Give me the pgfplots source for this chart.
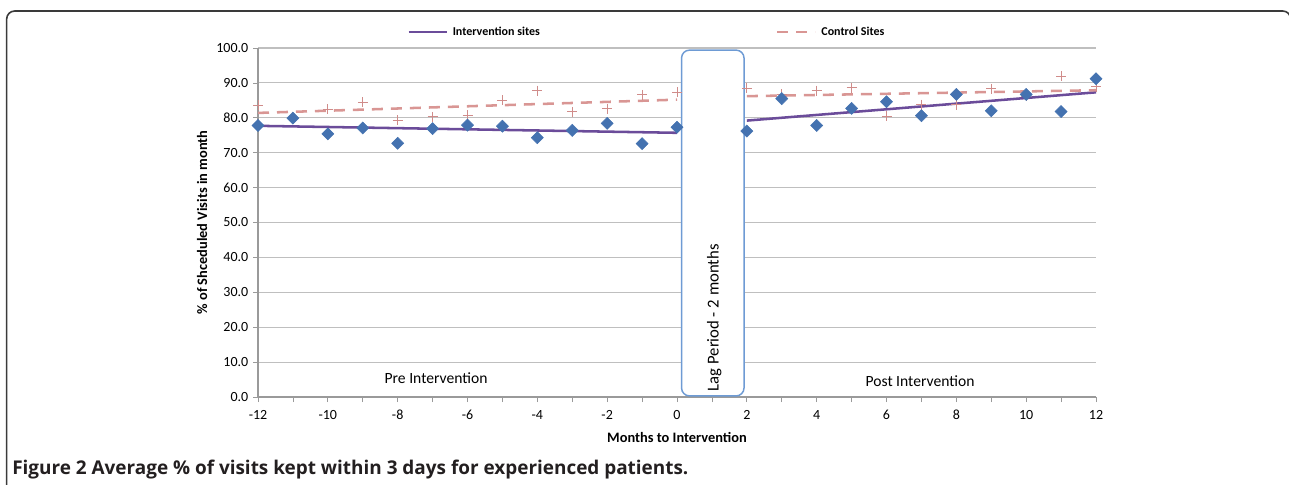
\documentclass[border=0pt]{standalone}
\usepackage{pgfplots}
\pgfplotsset{compat=1.18}
\usepackage{fontspec}
\setmainfont{Carlito}
\newfontfamily\capfont{Open Sans}

\definecolor{intblue}{HTML}{4472B0}
\definecolor{intpurple}{HTML}{6B4C9A}
\definecolor{ctrlrose}{HTML}{D99694}
\definecolor{ctrlplus}{HTML}{D08C8A}
\definecolor{boxblue}{HTML}{6E9BD4}
\definecolor{gridgray}{HTML}{BFBFBF}
\definecolor{axisgray}{HTML}{9A9A9A}
\definecolor{framegray}{HTML}{3A3A3A}
\definecolor{captext}{HTML}{231F20}

\begin{document}
\begin{tikzpicture}
% 1 px of the reference = 0.75pt
\useasboundingbox (0,0) rectangle (966.75pt,-363.75pt);
\draw[line width=1.2pt, framegray, rounded corners=6pt]
  (5pt,-370pt) -- (5pt,-8.25pt) -- (968pt,-8.25pt) -- (968pt,-370pt);

\begin{axis}[
    at={(193.5pt,-297.75pt)}, anchor=south west,
    scale only axis, width=628.5pt, height=261.75pt,
    xmin=-12, xmax=12, ymin=0, ymax=100,
    clip=false,
    axis x line*=bottom, axis y line*=left,
    axis line style={draw=axisgray, line width=0.8pt, -},
    xtick={-12,-10,...,12}, minor x tick num=1,
    ytick={0,10,...,100},
    tick align=outside,
    major tick length=3.75pt, minor tick length=3.75pt,
    every tick/.style={draw=axisgray, line width=0.6pt},
    ymajorgrids,
    grid style={draw=gridgray, line width=0.8pt},
    yticklabel style={/pgf/number format/.cd, fixed, fixed zerofill, precision=1},
    xticklabel style={yshift=-2.5pt},
    /pgf/number format/assume math mode=true,
    ticklabel style={font=\fontsize{10.5}{12}\selectfont},
    xlabel={Months to Intervention},
    ylabel={\% of Shceduled Visits in month},
    xlabel style={yshift=-3pt},
    label style={font=\bfseries\fontsize{10.8}{13}\selectfont},
    legend columns=2,
    legend cell align=left,
    legend image code/.code={\draw[#1] (0pt,0pt) -- (28.5pt,0pt);},
    legend style={
      at={(axis description cs:0.1778,1.0458)}, anchor=west,
      draw=none, fill=none, inner sep=0pt,
      font=\bfseries\fontsize{9}{11}\selectfont,
      nodes={inner sep=0pt},
      /tikz/every odd column/.append style={column sep=3.75pt},
      /tikz/every even column/.append style={column sep=177pt},
    },
  ]

  % trend lines
  \addplot[intpurple, line width=1.9pt] coordinates {(-12,77.7) (0,75.7)};
  \addlegendentry{Intervention sites}
  \addplot[intpurple, line width=1.9pt, forget plot] coordinates {(2,79.2) (12,87.3)};
  \addplot[ctrlrose, line width=1.9pt, dash pattern=on 8.25pt off 6pt] coordinates {(-12,81.4) (0,85.2)};
  \addlegendentry{Control Sites}
  \addplot[ctrlrose, line width=1.9pt, dash pattern=on 8.25pt off 6pt, forget plot] coordinates {(2,86.2) (12,87.9)};

  % control sites
  \addplot[only marks, mark=+, mark size=3.75pt, ctrlplus, line width=0.75pt, forget plot] coordinates {
    (-12,83.6) (-11,80.2) (-10,82.4) (-9,84.5) (-8,79.3) (-7,80.3) (-6,80.7)
    (-5,85.0) (-4,87.8) (-3,81.7) (-2,82.6) (-1,86.6) (0,87.3)
    (2,88.4) (3,86.7) (4,87.8) (5,88.6) (6,80.5) (7,83.8) (8,83.7)
    (9,88.3) (10,86.2) (11,91.9) (12,88.9)
  };
  % intervention sites
  \addplot[only marks, mark=square*, mark size=3.2pt, mark options={rotate=45, fill=intblue, draw=intblue}, forget plot] coordinates {
    (-12,77.8) (-11,79.9) (-10,75.4) (-9,77.1) (-8,72.7) (-7,76.9) (-6,77.9)
    (-5,77.6) (-4,74.3) (-3,76.4) (-2,78.4) (-1,72.6) (0,77.3)
    (2,76.2) (3,85.5) (4,77.8) (5,82.7) (6,84.6) (7,80.6) (8,86.7)
    (9,82.0) (10,86.7) (11,81.8) (12,91.2)
  };

  % lag period box
  \draw[boxblue, line width=1.1pt, fill=white, rounded corners=6pt]
    (axis cs:0.13,0.3) rectangle (axis cs:1.92,99.4);
  \node[rotate=90, font=\fontsize{12.5}{15}\selectfont] at (axis cs:1.07,22.7) {Lag Period - 2 months};
  \node[font=\fontsize{11.7}{14}\selectfont] at (axis cs:-6.9,5.4) {Pre Intervention};
  \node[font=\fontsize{11.7}{14}\selectfont] at (axis cs:6.96,4.6) {Post Intervention};
\end{axis}

\node[anchor=base west, inner sep=0pt, text=captext,
      font=\capfont\bfseries\fontsize{14.2}{17}\selectfont]
  at (9pt,-355.5pt) {Figure 2 Average \% of visits kept within 3 days for experienced patients.};
\end{tikzpicture}
\end{document}
